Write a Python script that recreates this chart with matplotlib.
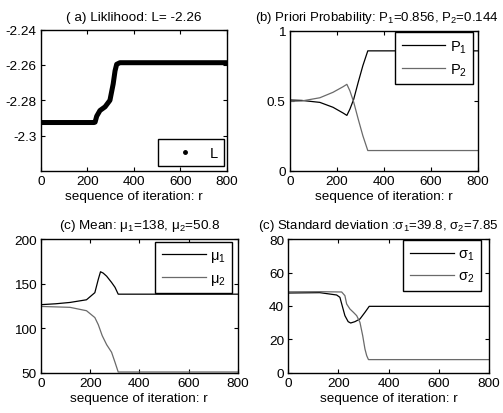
import matplotlib
matplotlib.use('Agg')
import matplotlib.pyplot as plt
from matplotlib.lines import Line2D

plt.rcParams['font.family'] = ['Liberation Sans', 'DejaVu Sans']
plt.rcParams['mathtext.fontset'] = 'custom'
plt.rcParams['mathtext.rm'] = 'Liberation Sans'
plt.rcParams['mathtext.it'] = 'Liberation Sans:italic'
plt.rcParams['mathtext.default'] = 'regular'
plt.rcParams['font.size'] = 9.7

# ---------------- data ----------------
L_r = [0, 228, 233, 240, 254, 276, 297, 311, 319, 326, 340, 800]
L_v = [-2.2926, -2.2926, -2.2924, -2.2890, -2.2858, -2.2837, -2.2800, -2.2707,
       -2.2633, -2.2596, -2.2587, -2.2587]

P_r = [0, 50, 127, 183, 226, 242, 255, 271, 290, 310, 331, 800]
P1 = [0.505, 0.502, 0.488, 0.453, 0.412, 0.395, 0.44, 0.51, 0.63, 0.75, 0.856, 0.856]
P2 = [0.495, 0.498, 0.521, 0.560, 0.600, 0.617, 0.57, 0.49, 0.37, 0.25, 0.144, 0.144]

mu1_r = [0, 60, 118, 185, 219, 233, 242, 253, 267, 287, 301, 314, 800]
mu1 = [126.5, 127.5, 129, 132, 140, 155, 163.5, 162, 158.5, 151.5, 146, 138.3, 138.3]
mu2_r = [0, 60, 118, 185, 219, 233, 249, 267, 287, 301, 314, 800]
mu2 = [124.5, 124, 123.5, 119.7, 112, 104, 91.6, 81.5, 73, 61.7, 50.8, 50.8]

s1_r = [0, 126, 193, 206, 226, 239, 249, 266, 286, 306, 323, 800]
s1 = [47.8, 48.0, 46.6, 45.2, 34.2, 30.6, 29.8, 30.6, 32.2, 36.2, 39.8, 39.8]
s2_r = [0, 126, 213, 226, 233, 246, 260, 273, 286, 297, 306, 313, 320, 800]
s2 = [48.5, 48.6, 48.4, 46.2, 41.2, 38.2, 36.2, 34.2, 30.2, 22.2, 14.2, 10.2, 7.85, 7.85]

xticks = [0, 200, 400, 600, 800]
xlabel = 'sequence of iteration: r'

C1 = '#000000'
C2 = '#6a6a6a'

fig = plt.figure(figsize=(5.03, 4.14), dpi=100)
W, H = 503.0, 414.0

def mkax(l, r, t, b):
    return fig.add_axes([l / W, 1 - b / H, (r - l) / W, (b - t) / H])

axa = mkax(41, 226.7, 30.7, 171.7)
axb = mkax(290, 478, 31.7, 171.7)
axc = mkax(41, 237.7, 240.3, 373.7)
axd = mkax(288.3, 488.7, 240.3, 373.7)

def style(ax):
    ax.set_xlim(0, 800)
    ax.set_xticks(xticks)
    ax.tick_params(direction='in', top=True, right=True, length=3, width=0.8,
                   labelsize=9.7, pad=3)
    for s in ax.spines.values():
        s.set_linewidth(1.0)
    ax.set_xlabel(xlabel, fontsize=9.7, labelpad=2)

legkw = dict(frameon=True, fancybox=False, framealpha=1, edgecolor='black',
             borderaxespad=0, fontsize=10.5, handletextpad=0.3,
             borderpad=0.45, labelspacing=0.45)

# (a)
axa.plot(L_r, L_v, color='black', linewidth=3.6, solid_capstyle='round')
style(axa)
axa.set_ylim(-2.3199, -2.24)
axa.set_yticks([-2.3, -2.28, -2.26, -2.24])
axa.set_yticklabels(['-2.3', '-2.28', '-2.26', '-2.24'])
axa.set_title('( a) Liklihood: L= -2.26', fontsize=9.7, pad=7)
h = Line2D([], [], color='black', marker='.', linestyle='none', markersize=5)
lg = axa.legend([h], ['L'], loc='lower right', bbox_to_anchor=(0.9855, 0.031),
                handlelength=2.8, **legkw)
lg.get_frame().set_linewidth(1.0)

# (b)
axb.plot(P_r, P1, color=C1, linewidth=0.9, label='P$_1$')
axb.plot(P_r, P2, color=C2, linewidth=0.9, label='P$_2$')
style(axb)
axb.set_ylim(0, 1)
axb.set_yticks([0, 0.5, 1])
axb.set_yticklabels(['0', '0.5', '1'])
tb = axb.set_title('(b) Priori Probability: P$_1$=0.856, P$_2$=0.144', fontsize=9.5, pad=8)
tb.set_x(0.463)
lg = axb.legend(loc='upper right', bbox_to_anchor=(0.975, 0.993), handlelength=3.0, **legkw)
lg.get_frame().set_linewidth(1.0)

# (c)
axc.plot(mu1_r, mu1, color=C1, linewidth=0.9, label='μ$_1$')
axc.plot(mu2_r, mu2, color=C2, linewidth=0.9, label='μ$_2$')
style(axc)
axc.set_ylim(50, 200)
axc.set_yticks([50, 100, 150, 200])
axc.set_title('(c) Mean: μ$_1$=138, μ$_2$=50.8', fontsize=9.7, pad=8)
lg = axc.legend(loc='upper right', bbox_to_anchor=(0.9726, 0.982), handlelength=3.0, **legkw)
lg.get_frame().set_linewidth(1.0)

# (d)
axd.plot(s1_r, s1, color=C1, linewidth=0.9, label='σ$_1$')
axd.plot(s2_r, s2, color=C2, linewidth=0.9, label='σ$_2$')
style(axd)
axd.set_ylim(0, 80)
axd.set_yticks([0, 20, 40, 60, 80])
td = axd.set_title('(c) Standard deviation :σ$_1$=39.8, σ$_2$=7.85', fontsize=9.5, pad=8)
td.set_x(0.4476)
lg = axd.legend(loc='upper right', bbox_to_anchor=(0.9616, 0.9925), handlelength=3.0, **legkw)
lg.get_frame().set_linewidth(1.0)

fig.savefig('out.png', dpi=100)
